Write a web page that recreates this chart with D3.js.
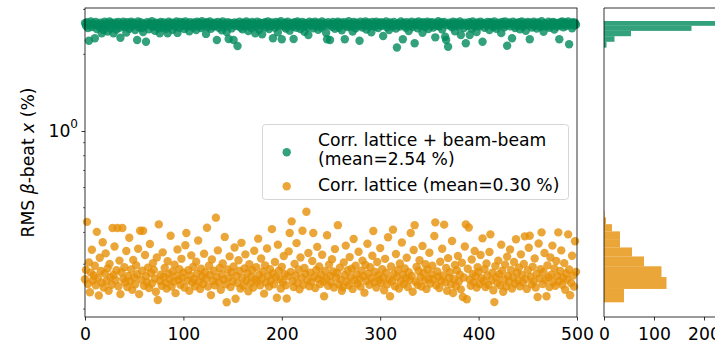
<!DOCTYPE html>
<html><head><meta charset="utf-8">
<script src="https://cdn.jsdelivr.net/npm/d3@7"></script>
<style>body{margin:0;background:#fff;} text{font-family:"DejaVu Sans",sans-serif;fill:#000;}</style>
</head><body>
<svg id="c" width="715" height="344"></svg>
<script>
const greenValues = [
2.652,2.588,2.671,2.534,2.262,2.623,2.690,2.557,2.641,2.605,
2.312,2.679,2.512,2.633,2.596,2.548,2.664,2.419,2.618,2.493,
2.687,2.571,2.642,2.455,2.610,2.694,2.527,2.656,2.582,2.419,
2.628,2.665,2.502,2.601,2.679,2.543,2.324,2.637,2.592,2.688,
2.561,2.619,2.436,2.675,2.598,2.521,2.646,2.683,2.574,2.612,
2.659,2.489,2.627,2.277,2.692,2.553,2.606,2.668,2.539,2.445,
2.635,2.581,2.242,2.674,2.616,2.507,2.651,2.589,2.698,2.565,
2.624,2.476,2.662,2.597,2.643,2.530,2.419,2.681,2.609,2.552,
2.670,2.593,2.518,2.638,2.419,2.685,2.577,2.621,2.661,2.498,
2.603,2.649,2.563,2.691,2.427,2.615,2.544,2.677,2.631,2.586,
2.657,2.514,2.695,2.602,2.568,2.639,2.463,2.673,2.594,2.621,
2.548,2.666,2.608,2.491,2.684,2.629,2.575,2.653,2.536,2.699,
2.611,2.582,2.647,2.405,2.672,2.559,2.625,2.689,2.520,2.600,
2.644,2.571,2.663,2.597,2.277,2.682,2.541,2.617,2.650,2.483,
2.692,2.606,2.562,2.636,2.448,2.676,2.297,2.590,2.658,2.528,
2.619,2.277,2.670,2.584,2.645,2.157,2.601,2.687,2.549,2.632,
2.508,2.664,2.613,2.578,2.694,2.625,2.466,2.655,2.595,2.537,
2.679,2.604,2.640,2.419,2.568,2.686,2.622,2.499,2.660,2.587,
2.398,2.648,2.599,2.673,2.556,2.617,2.690,2.513,2.634,2.580,
2.667,2.312,2.626,2.545,2.681,2.603,2.438,2.654,2.592,2.696,
2.291,2.610,2.573,2.662,2.525,2.641,2.685,2.594,2.477,2.628,
2.653,2.566,2.297,2.675,2.615,2.540,2.693,2.600,2.647,2.511,
2.623,2.678,2.583,2.452,2.658,2.604,2.555,2.382,2.686,2.630,
2.597,2.669,2.532,2.612,2.683,2.575,2.643,2.496,2.661,2.608,
2.548,2.690,2.621,2.585,2.652,2.429,2.291,2.674,2.601,2.277,
2.636,2.563,2.680,2.619,2.517,2.656,2.598,2.687,2.542,2.627,
2.664,2.486,2.609,2.672,2.291,2.589,2.645,2.558,2.697,2.616,
2.571,2.638,2.459,2.677,2.603,2.529,2.660,2.619,2.581,2.262,
2.684,2.606,2.549,2.650,2.594,2.691,2.503,2.633,2.668,2.577,
2.612,2.442,2.679,2.596,2.639,2.564,2.688,2.623,2.535,2.657,
2.602,2.673,2.586,2.360,2.646,2.618,2.694,2.552,2.628,2.490,
2.665,2.599,2.634,2.572,2.682,2.614,2.523,2.126,2.651,2.607,
2.569,2.689,2.625,2.291,2.660,2.591,2.545,2.676,2.611,2.470,
2.643,2.597,2.685,2.559,2.629,2.210,2.667,2.604,2.533,2.692,
2.618,2.580,2.655,2.432,2.674,2.600,2.561,2.640,2.687,2.515,
2.631,2.663,2.594,2.676,2.546,2.609,2.332,2.649,2.588,2.698,
2.574,2.622,2.668,2.505,2.637,2.681,2.345,2.277,2.603,2.143,
2.659,2.593,2.639,2.551,2.683,2.615,2.461,2.670,2.598,2.628,
2.566,2.690,2.382,2.644,2.606,2.538,2.661,2.210,2.620,2.583,
2.675,2.382,2.652,2.527,2.693,2.610,2.570,2.641,2.448,2.666,
2.601,2.579,2.686,2.624,2.242,2.657,2.543,2.634,2.592,2.680,
2.613,2.492,2.671,2.598,2.648,2.560,2.689,2.627,2.519,2.606,
2.663,2.587,2.640,2.422,2.677,2.616,2.554,2.694,2.603,2.162,
2.630,2.668,2.576,2.645,2.312,2.684,2.597,2.535,2.658,2.619,
2.589,2.675,2.509,2.626,2.691,2.567,2.608,2.654,2.473,2.637,
2.682,2.599,2.291,2.660,2.547,2.615,2.687,2.582,2.643,2.526,
2.669,2.604,2.637,2.560,2.696,2.591,2.454,2.650,2.612,2.578,
2.625,2.685,2.540,2.607,2.663,2.596,2.679,2.501,2.634,2.653,
2.573,2.618,2.291,2.672,2.600,2.689,2.556,2.639,2.665,2.584,
2.627,2.692,2.190,2.609,2.648,2.531,2.676,2.594,2.660,2.615];

const orangeValues = [
0.262,0.285,0.440,0.251,0.305,0.233,0.278,0.342,0.259,0.271,
0.296,0.248,0.402,0.265,0.226,0.318,0.282,0.254,0.366,0.243,
0.276,0.331,0.258,0.289,0.236,0.301,0.267,0.249,0.416,0.272,
0.352,0.260,0.284,0.416,0.246,0.310,0.229,0.279,0.416,0.263,
0.292,0.255,0.338,0.244,0.270,0.381,0.257,0.286,0.238,0.312,
0.266,0.250,0.297,0.274,0.345,0.229,0.406,0.261,0.283,0.406,
0.247,0.326,0.269,0.255,0.291,0.242,0.360,0.277,0.252,0.303,
0.285,0.264,0.234,0.319,0.217,0.430,0.258,0.273,0.247,0.334,
0.268,0.290,0.253,0.241,0.308,0.275,0.262,0.388,0.245,0.281,
0.256,0.299,0.231,0.270,0.343,0.260,0.287,0.249,0.315,0.266,
0.278,0.243,0.356,0.398,0.259,0.284,0.236,0.271,0.325,0.254,
0.293,0.262,0.246,0.307,0.276,0.372,0.257,0.240,0.288,0.269,
0.251,0.330,0.279,0.263,0.417,0.245,0.296,0.272,0.227,0.313,
0.258,0.283,0.248,0.457,0.267,0.340,0.255,0.290,0.238,0.274,
0.302,0.261,0.384,0.250,0.2127,0.286,0.266,0.322,0.244,0.279,
0.257,0.294,0.349,0.2196,0.270,0.253,0.311,0.282,0.241,0.364,
0.265,0.247,0.289,0.328,0.259,0.277,0.235,0.300,0.252,0.268,
0.284,0.243,0.339,0.261,0.292,0.256,0.378,0.272,0.248,0.316,
0.264,0.281,0.230,0.297,0.254,0.346,0.270,0.245,0.287,0.259,
0.412,0.276,0.250,0.306,0.267,0.2216,0.358,0.283,0.262,0.241,
0.293,0.255,0.323,0.274,0.248,0.2201,0.269,0.337,0.398,0.280,
0.442,0.258,0.244,0.301,0.271,0.363,0.253,0.286,0.239,0.319,
0.266,0.406,0.249,0.290,0.275,0.482,0.260,0.332,0.246,0.278,
0.256,0.309,0.398,0.268,0.242,0.285,0.351,0.263,0.294,0.251,
0.273,0.327,0.257,0.2245,0.282,0.264,0.390,0.247,0.299,0.270,
0.254,0.314,0.281,0.243,0.344,0.266,0.277,0.427,0.250,0.291,
0.261,0.236,0.244,0.305,0.272,0.355,0.256,0.284,0.248,0.320,
0.267,0.288,0.240,0.377,0.259,0.296,0.274,0.252,0.336,0.263,
0.245,0.283,0.310,0.269,0.232,0.298,0.258,0.361,0.276,0.249,
0.292,0.265,0.324,0.405,0.255,0.280,0.243,0.306,0.271,0.260,
0.347,0.253,0.287,0.266,0.237,0.315,0.278,0.250,0.383,0.262,
0.2245,0.294,0.258,0.410,0.275,0.246,0.329,0.268,0.285,0.241,
0.302,0.257,0.365,0.273,0.251,0.289,0.264,0.318,0.244,0.279,
0.260,0.398,0.270,0.234,0.341,0.427,0.256,0.293,0.249,0.283,
0.311,0.267,0.245,0.354,0.277,0.259,0.300,0.240,0.286,0.263,
0.333,0.252,0.274,0.296,0.262,0.387,0.438,0.248,0.281,0.268,
0.242,0.307,0.258,0.345,0.271,0.429,0.254,0.290,0.236,0.317,
0.265,0.279,0.250,0.370,0.231,0.262,0.298,0.246,0.284,0.323,
0.257,0.273,0.239,0.304,0.2232,0.266,0.352,0.430,0.2185,0.288,
0.418,0.261,0.247,0.313,0.275,0.255,0.338,0.269,0.243,0.292,
0.280,0.251,0.326,0.264,0.379,0.258,0.287,0.244,0.302,0.271,
0.249,0.335,0.393,0.260,0.278,0.237,0.213,0.295,0.266,0.253,
0.310,0.274,0.248,0.358,0.283,0.234,0.262,0.299,0.245,0.321,
0.270,0.256,0.343,0.285,0.241,0.267,0.306,0.252,0.376,0.278,
0.259,0.291,0.246,0.328,0.272,0.254,0.301,0.386,0.263,0.240,
0.284,0.348,0.388,0.268,0.250,0.293,0.257,0.316,0.243,0.275,
0.2232,0.362,0.264,0.287,0.400,0.251,0.279,0.332,0.260,0.2245,
0.297,0.266,0.244,0.319,0.273,0.355,0.255,0.289,0.247,0.309,
0.270,0.400,0.258,0.282,0.340,0.249,0.265,0.303,0.238,0.276,
0.261,0.393,0.286,0.2268,0.253,0.324,0.271,0.245,0.369,0.280];

// histogram bins
const greenEdges = [2.124, 2.240, 2.356, 2.472, 2.588, 2.703];
const greenCounts = [5, 21, 54, 175, 245];
const orangeEdges = [0.2126, 0.2399, 0.2672, 0.2945, 0.3218, 0.3491, 0.3764, 0.4037, 0.4310, 0.4583, 0.4856];
const orangeCounts = [40, 125, 115, 80, 56, 32, 32, 16, 4, 1];

const xTicks = [0, 100, 200, 300, 400, 500];
const histTicks = [0, 100, 200];
const minorYTicks = [0.2, 0.3, 0.4, 0.5, 0.6, 0.7, 0.8, 0.9, 2, 3];
const labelGreen = ["Corr. lattice + beam-beam", "(mean=2.54 %)"];
const labelOrange = "Corr. lattice (mean=0.30 %)";

const GREEN = "#018a5c", ORANGE = "#e69008";
const FS = 17.2;

const svg = d3.select("#c");
const L = 85, R = 577, T = 8, B = 317;
const HL = 604;

const x = d3.scaleLinear().domain([0, 500]).range([L, R]);
const y = d3.scaleLog().domain([0.1862, 3.040]).range([B, T]);
const xh = d3.scaleLinear().domain([0, 250]).range([HL, HL + 125]);

svg.append("clipPath").attr("id", "hclip").append("rect")
  .attr("x", HL).attr("y", T).attr("width", 200).attr("height", B - T);

// scatter
const gS = svg.append("g");
gS.selectAll("circle.g").data(greenValues).join("circle")
  .attr("cx", (d, i) => x(i)).attr("cy", d => y(d)).attr("r", 4.2)
  .attr("fill", GREEN).attr("fill-opacity", 0.8);
gS.selectAll("circle.o").data(orangeValues).join("circle").attr("class","o")
  .attr("cx", (d, i) => x(i)).attr("cy", d => y(d)).attr("r", 4.2)
  .attr("fill", ORANGE).attr("fill-opacity", 0.8);

// main axes
const xAxis = d3.axisBottom(x).tickValues(xTicks).tickSize(3.5).tickPadding(4).tickFormat(d3.format("d"));
const gx = svg.append("g").attr("transform", `translate(0,${B})`).call(xAxis);
gx.select(".domain").remove();
gx.selectAll("text").attr("font-size", FS).attr("font-family", "DejaVu Sans").attr("dy", "0.92em");
gx.selectAll("line").attr("stroke", "#000").attr("stroke-width", 0.8);

const gy = svg.append("g").attr("transform", `translate(${L},0)`);
gy.call(d3.axisLeft(y).tickValues([1]).tickSize(3.5).tickFormat(""));
gy.select(".domain").remove();
gy.selectAll("line").attr("stroke", "#000").attr("stroke-width", 0.8);
gy.selectAll(".minor").data(minorYTicks).join("line").attr("class","minor")
  .attr("x1", -2).attr("x2", 0).attr("y1", d => y(d)).attr("y2", d => y(d))
  .attr("stroke", "#000").attr("stroke-width", 0.6);
const t10 = gy.append("text").attr("x", -7).attr("y", y(1)).attr("dy", "0.36em")
  .attr("text-anchor", "end").attr("font-size", FS);
t10.append("tspan").text("10");
t10.append("tspan").attr("font-size", FS * 0.7).attr("dy", "-0.75em").text("0");

// y title
const yt = svg.append("text").attr("transform", `translate(34,${(T + B) / 2}) rotate(-90)`)
  .attr("text-anchor", "middle").attr("font-size", FS);
yt.append("tspan").text("RMS ");
yt.append("tspan").attr("font-style", "italic").text("β");
yt.append("tspan").text("-beat ");
yt.append("tspan").attr("font-style", "italic").text("x");
yt.append("tspan").text(" (%)");

svg.append("rect").attr("x", L).attr("y", T).attr("width", R - L).attr("height", B - T)
  .attr("fill", "none").attr("stroke", "#000").attr("stroke-width", 0.8);

// legend
const lg = svg.append("g");
lg.append("rect").attr("x", 262.5).attr("y", 124.5).attr("width", 306).attr("height", 75).attr("rx", 3)
  .attr("fill", "#fff").attr("fill-opacity", 0.8).attr("stroke", "#cccccc").attr("stroke-width", 0.8);
lg.append("circle").attr("cx", 286.7).attr("cy", 152.3).attr("r", 4.2).attr("fill", GREEN).attr("fill-opacity", 0.8);
lg.append("circle").attr("cx", 286.7).attr("cy", 186.3).attr("r", 4.2).attr("fill", ORANGE).attr("fill-opacity", 0.8);
lg.append("text").attr("x", 318).attr("y", 145.7).attr("font-size", FS).text(labelGreen[0]);
lg.append("text").attr("x", 318).attr("y", 164.5).attr("font-size", FS).text(labelGreen[1]);
lg.append("text").attr("x", 318).attr("y", 191).attr("font-size", FS).text(labelOrange);

// histogram
const gh = svg.append("g").attr("clip-path", "url(#hclip)");
function bars(edges, counts, color) {
  const bins = counts.map((c, i) => ({ c, lo: edges[i], hi: edges[i + 1] }));
  gh.append("g").selectAll("rect").data(bins).join("rect")
    .attr("x", xh(0)).attr("y", d => y(d.hi)).attr("width", d => xh(d.c) - xh(0))
    .attr("height", d => y(d.lo) - y(d.hi)).attr("fill", color).attr("fill-opacity", 0.8);
}
bars(greenEdges, greenCounts, GREEN);
bars(orangeEdges, orangeCounts, ORANGE);

const hx = svg.append("g").attr("transform", `translate(0,${B})`)
  .call(d3.axisBottom(xh).tickValues(histTicks).tickSize(3.5).tickPadding(4).tickFormat(d3.format("d")));
hx.select(".domain").remove();
hx.selectAll("text").attr("font-size", FS).attr("font-family", "DejaVu Sans").attr("dy", "0.92em");
hx.selectAll("line").attr("stroke", "#000").attr("stroke-width", 0.8);
svg.append("path").attr("d", `M${HL},${T}H716M${HL},${B}H716M${HL},${T}V${B}`)
  .attr("fill", "none").attr("stroke", "#000").attr("stroke-width", 0.8);
</script>
</body></html>
